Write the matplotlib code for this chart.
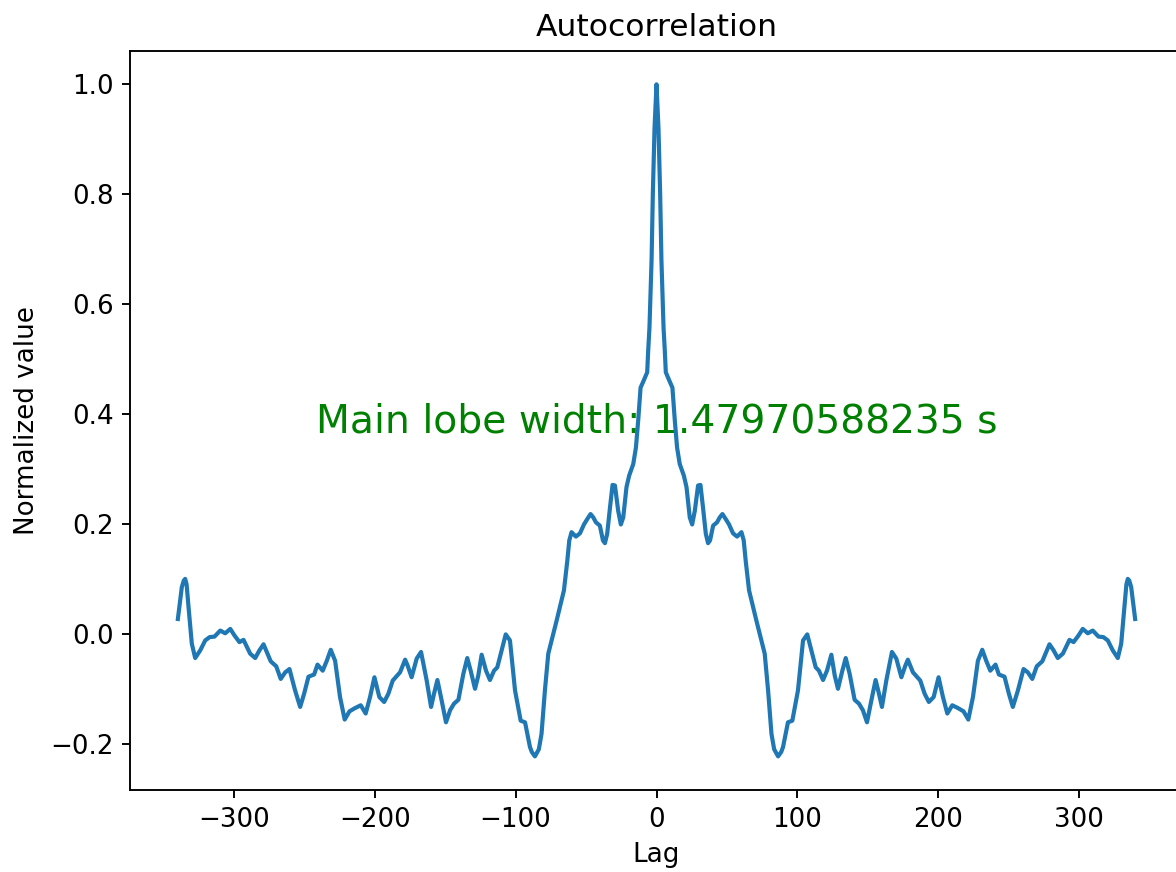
import numpy as np
import matplotlib
matplotlib.use("Agg")
import matplotlib.pyplot as plt

# One-sided autocorrelation (non-negative lags); the function is even in the lag.
lag_pos = [0.0, 1.4, 2.6, 3.5, 5.0, 5.9, 6.6, 8.9, 11.3, 13.0, 14.6, 16.5, 19.4,
           21.3, 23.6, 25.3, 27.2, 29.5, 31.2, 33.0, 35.0, 36.6, 38.0, 40.2,
           43.0, 44.9, 46.8, 49.1, 51.5, 54.3, 57.2, 60.3, 61.9, 63.3, 65.7,
           70.9, 76.8, 79.2, 81.6, 83.5, 86.3, 88.5, 89.8, 93.3, 96.4, 100.4,
           104.0, 107.0, 109.9, 113.0, 115.3, 118.2, 121.0, 124.1, 126.5,
           128.8, 131.9, 134.3, 137.1, 140.6, 143.7, 146.5, 149.4, 152.5,
           155.5, 157.9, 160.0, 163.1, 167.1, 170.2, 173.8, 176.6, 178.4,
           182.0, 187.2, 190.3, 193.3, 196.7, 200.2, 203.3, 206.4, 209.9,
           213.9, 217.9, 221.3, 224.6, 228.1, 231.2, 234.0, 236.9, 240.6,
           243.0, 247.0, 250.1, 252.9, 256.5, 260.5, 263.5, 266.7, 269.9,
           273.8, 278.9, 281.8, 284.8, 288.4, 293.1, 296.0, 299.5, 302.5,
           306.1, 309.6, 313.7, 317.2, 320.3, 323.8, 327.4, 329.8, 332.1,
           333.5, 334.5, 335.5, 336.9, 339.7]
acf_pos = [1.0, 0.92, 0.80, 0.68, 0.557, 0.515, 0.476, 0.462, 0.448, 0.388,
           0.339, 0.309, 0.288, 0.267, 0.212, 0.199, 0.224, 0.27, 0.271, 0.23,
           0.182, 0.165, 0.17, 0.197, 0.203, 0.212, 0.218, 0.209, 0.199,
           0.183, 0.177, 0.185, 0.17, 0.133, 0.079, 0.024, -0.036, -0.103,
           -0.182, -0.21, -0.223, -0.215, -0.206, -0.161, -0.158, -0.103,
           -0.012, -0.001, -0.030, -0.061, -0.067, -0.084, -0.067, -0.038,
           -0.076, -0.100, -0.067, -0.044, -0.073, -0.120, -0.127, -0.139,
           -0.161, -0.121, -0.084, -0.109, -0.133, -0.085, -0.033, -0.045,
           -0.079, -0.058, -0.047, -0.070, -0.085, -0.109, -0.124, -0.115,
           -0.079, -0.115, -0.145, -0.130, -0.135, -0.141, -0.156, -0.115,
           -0.049, -0.029, -0.049, -0.067, -0.056, -0.074, -0.078, -0.109,
           -0.133, -0.103, -0.064, -0.070, -0.082, -0.059, -0.050, -0.019,
           -0.030, -0.044, -0.036, -0.011, -0.015, -0.003, 0.009, 0.001,
           0.006, -0.005, -0.006, -0.012, -0.030, -0.044, -0.018, 0.048,
           0.09, 0.100, 0.097, 0.085, 0.027]

main_lobe_width = "1.47970588235"

lag_pos = np.asarray(lag_pos)
acf_pos = np.asarray(acf_pos)
lags = np.concatenate([-lag_pos[:0:-1], lag_pos])
acf = np.concatenate([acf_pos[:0:-1], acf_pos])

plt.rcParams["font.size"] = 11

dpi = 171
fig = plt.figure(figsize=(1176 / dpi, 872 / dpi), dpi=dpi)
ax = fig.add_axes([130 / 1176, 82 / 872, 1053 / 1176, 739.3 / 872])

ax.plot(lags, acf, color="#1f77b4", linewidth=1.75,
        solid_joinstyle="round")
ax.text(0, 0.367, f"Main lobe width: {main_lobe_width} s", color="green",
        fontsize=16.5, ha="center", va="baseline", zorder=1)

ax.set_title("Autocorrelation", fontsize=13.2, pad=6)
ax.set_xlabel("Lag")
ax.set_ylabel("Normalized value")

fig.savefig("out.png", dpi=dpi)
